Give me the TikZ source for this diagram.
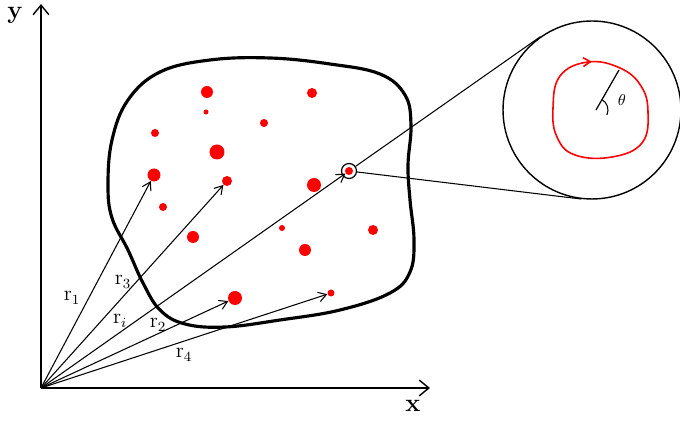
\documentclass[tikz,border=0pt]{standalone}
\usepackage{xcolor}
\usetikzlibrary{arrows.meta,calc,decorations.markings}
\definecolor{dotred}{HTML}{FF0000}

\begin{document}
\begin{tikzpicture}[x=0.02cm,y=-0.02cm,
    axis/.style={line width=0.8pt,-{Straight Barb[length=5.5pt,width=9pt]}},
    vec/.style={line width=0.6pt,-{Straight Barb[length=4.5pt,width=5.5pt]}},
    dot/.style={circle,fill=dotred,inner sep=0pt,minimum size=#1*0.04cm},
    lbl/.style={font=\large}]
  \useasboundingbox (0,0) rectangle (680,421);
  \coordinate (O) at (41,388);
  \coordinate (ytip) at (41,4);
  \coordinate (xtip) at (430,388);
  \draw[axis] (O) -- (ytip);
  \draw[axis] (O) -- (xtip);
  \node[font=\Large\bfseries] (ylab) at (15,15) {y};
  \node[font=\Large\bfseries] (xlab) at (413,406) {x};

  \draw[line width=1.8pt] plot[smooth cycle,tension=0.65] coordinates {
    (108,185) (112,140) (128,100) (160,72) (210,60) (270,58) (330,64)
    (380,74) (405,95) (411,125) (408,165) (410,200) (414,240) (410,272)
    (390,293) (340,310) (280,320) (225,327) (185,324) (160,310) (143,283)
    (128,250) (112,218)};

  \foreach \x/\y/\r/\n in {207/92/6/a, 312/93/5/b, 206/112/2.5/c, 264/123/4/d,
      155/133/4/e, 217/152/7.5/f, 154/175/6.5/p1, 227/181/5/p3, 314/185/7/g,
      349/171/4/pi, 163/207/4/h, 193/237/6/k, 282/228/3/l, 305/250/6/m,
      373/230/5/n, 235/298/7/p2, 331/293/3.5/p4}
    \node[dot=\r] (\n) at (\x,\y) {};

  \node[circle,draw,line width=0.7pt,inner sep=0pt,minimum size=0.3cm] (spot) at (349,171) {};
  \node[circle,draw,line width=0.8pt,inner sep=0pt,minimum size=3.56cm] (zoom) at (592,110) {};

  \draw[vec] (O) -- (p1);
  \draw[vec] (O) -- (p3);
  \draw[vec] (O) -- (pi);
  \draw[vec] (O) -- (p2);
  \draw[vec] (O) -- (p4);
  \node[lbl] (l1) at (72,298) {$\mathrm{r}_1$};
  \node[lbl] (l3) at (123,282) {$\mathrm{r}_3$};
  \node[lbl] (li) at (120,321) {$\mathrm{r}_i$};
  \node[lbl] (l2) at (158,325) {$\mathrm{r}_2$};
  \node[lbl] (l4) at (184,355) {$\mathrm{r}_4$};

  \draw[line width=0.6pt] (spot) -- (tangent cs:node=zoom,point={(spot.center)},solution=1);
  \draw[line width=0.6pt] (spot) -- (tangent cs:node=zoom,point={(spot.center)},solution=2);

  \draw[dotred,line width=0.9pt,postaction={decorate},
    decoration={markings,mark=at position 0.012 with {\arrow{Straight Barb[length=4pt,width=5pt]}}}]
    plot[smooth cycle,tension=0.7] coordinates {
    (560,76) (588,62) (620,68) (641,86) (648,112) (642,143) (612,157) (575,155)
    (557,137) (553,108)};

  \coordinate (c) at (596,110);
  \coordinate (rim) at (619,70);
  \draw[line width=0.7pt] (c) -- (rim);
  \draw[line width=0.6pt] (c) ++(-62:12) arc (-62:25:12);
  \node[font=\small] (th) at (622,100) {$\theta$};
\end{tikzpicture}
\end{document}
